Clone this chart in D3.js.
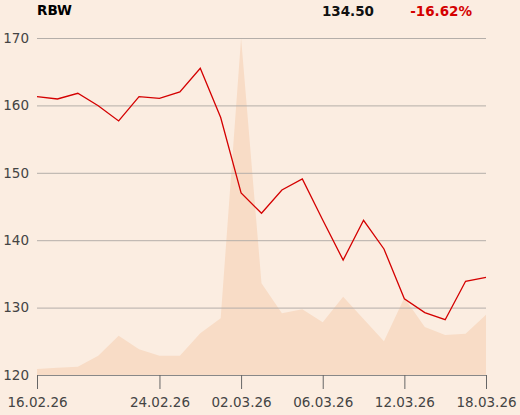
<!DOCTYPE html>
<html><head><meta charset="utf-8">
<script src="https://cdn.jsdelivr.net/npm/d3@7"></script>
<style>body{margin:0;background:#fbede1;}svg{display:block;font-family:"DejaVu Sans",sans-serif;}</style>
</head><body><svg id="c" width="520" height="415"></svg>
<script>
const dates = ["16.02.26","17.02.26","18.02.26","19.02.26","20.02.26","23.02.26","24.02.26","25.02.26","26.02.26","27.02.26","02.03.26","03.03.26","04.03.26","05.03.26","06.03.26","09.03.26","10.03.26","11.03.26","12.03.26","13.03.26","16.03.26","17.03.26","18.03.26"];
const prices = [161.3,160.95,161.8,159.95,157.7,161.3,161.05,162.0,165.5,158.2,147.0,144.0,147.45,149.1,143.0,137.05,142.95,138.7,131.3,129.25,128.2,133.9,134.5];
const volumes = [6,7.2,8.3,19.3,39.3,25.7,19.3,19.3,41.7,56.7,337,91.7,61.7,65.7,52.7,78.3,56,33.7,77.3,48,40,41.3,60.3];
const yTicks = [120,130,140,150,160,170];
const xTickLabels = ["16.02.26","24.02.26","02.03.26","06.03.26","12.03.26","18.03.26"];
const symbol = "RBW", lastPrice = "134.50", change = "-16.62%";

const svg = d3.select("#c");
const L = 37, R = 486, T = 38, B = 375;
const x = d3.scalePoint().domain(dates).range([L, R]);
const y = d3.scaleLinear().domain([120,170]).range([B, T]);
const yv = d3.scaleLinear().domain([0, d3.max(volumes)]).range([B, T]);

svg.append("path").datum(volumes)
  .attr("d", d3.area().x((d,i)=>x(dates[i])).y0(B).y1(d=>yv(d)))
  .attr("fill", "#f8dcc6");

const gy = svg.append("g").attr("transform", `translate(${L},0)`)
  .call(d3.axisLeft(y).tickValues(yTicks).tickSize(-(R-L)).tickPadding(8));
gy.select(".domain").remove();
gy.selectAll(".tick line").attr("stroke", "#b4aea9").attr("stroke-width", 1);
gy.selectAll(".tick text").attr("fill", "#444").attr("font-size", 13.5).attr("font-family","DejaVu Sans");
gy.selectAll(".tick").filter(d=>d===120).select("line").remove();

svg.append("path").datum(prices)
  .attr("d", d3.line().x((d,i)=>x(dates[i])).y(d=>y(d)))
  .attr("fill","none").attr("stroke","#d40000").attr("stroke-width",1.3);

const gx = svg.append("g").attr("transform", `translate(0,${B})`)
  .call(d3.axisBottom(x).tickValues(xTickLabels).tickSize(14).tickSizeOuter(0).tickPadding(8));
gx.select(".domain").attr("stroke","#888");
gx.selectAll(".tick line").attr("stroke","#666");
gx.selectAll(".tick text").attr("fill","#444").attr("font-size",13.5).attr("font-family","DejaVu Sans");

svg.append("text").attr("x",37).attr("y",15).attr("font-weight","bold").attr("font-size",13.5).attr("fill","#000").text(symbol);
svg.append("text").attr("x",374).attr("y",16).attr("text-anchor","end").attr("font-weight","bold").attr("font-size",13.5).attr("fill","#111").text(lastPrice);
svg.append("text").attr("x",472).attr("y",16).attr("text-anchor","end").attr("font-weight","bold").attr("font-size",13.5).attr("fill","#d40000").text(change);
</script></body></html>
